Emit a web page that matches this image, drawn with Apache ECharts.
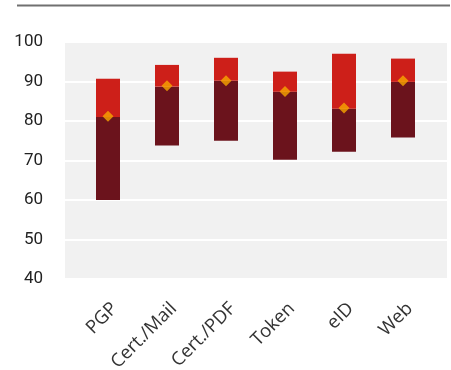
<!DOCTYPE html>
<html>
<head>
<meta charset="utf-8">
<script src="https://cdn.jsdelivr.net/npm/echarts@6/dist/echarts.min.js"></script>
<style>
  html, body { margin: 0; padding: 0; background: #ffffff; }
  #chart { width: 451px; height: 370px; }
</style>
</head>
<body>
<div id="chart"></div>
<script>
// Score ranges per signing method: lowest, median, highest and mean
const categories = ['PGP', 'Cert./Mail', 'Cert./PDF', 'Token', 'eID', 'Web'];
const minVals    = [60.0, 73.8, 75.0, 70.2, 72.2, 75.8];
const medianVals = [81.0, 88.7, 90.2, 87.4, 83.1, 89.9];
const maxVals    = [90.7, 94.2, 96.0, 92.5, 97.0, 95.8];
const meanVals   = [81.2, 88.9, 90.2, 87.5, 83.3, 90.2];
const yTicks = { min: 40, max: 100, step: 10 };

const Y_FONT = '"Roboto", sans-serif';
const X_FONT = '"Open Sans", sans-serif';

const lowerPart = medianVals.map((m, i) => +(m - minVals[i]).toFixed(2));
const upperPart = maxVals.map((m, i) => +(m - medianVals[i]).toFixed(2));

const chart = echarts.init(document.getElementById('chart'), null, { renderer: 'canvas' });

chart.setOption({
  animation: false,
  backgroundColor: '#ffffff',
  graphic: [{
    type: 'line',
    shape: { x1: 17, y1: 5.5, x2: 450, y2: 5.5 },
    style: { stroke: '#707070', lineWidth: 2 }
  }],
  grid: [
    // panel with background and gridlines
    { left: 65, right: 4, top: 42, height: 237, show: true, backgroundColor: '#f1f1f1',
      borderWidth: 0, containLabel: false, outerBoundsMode: 'none' },
    // inner area holding the bars
    { left: 78.5, width: 354, top: 42, height: 237, containLabel: false, outerBoundsMode: 'none' }
  ],
  xAxis: [
    { gridIndex: 0, type: 'value', show: false, min: 0, max: 1 },
    {
      gridIndex: 1, type: 'category', data: categories,
      axisLine: { show: false }, axisTick: { show: false },
      axisLabel: { rotate: 45, fontSize: 18.5, color: '#333333', fontFamily: X_FONT,
                   margin: 20, verticalAlign: 'top' }
    }
  ],
  yAxis: [
    {
      gridIndex: 0, type: 'value', min: yTicks.min, max: yTicks.max, interval: yTicks.step,
      axisLine: { show: false }, axisTick: { show: false },
      axisLabel: { fontSize: 17, color: '#222222', fontFamily: Y_FONT, margin: 22 },
      splitLine: { show: true, lineStyle: { color: '#ffffff', width: 2 } }
    },
    {
      gridIndex: 1, type: 'value', min: yTicks.min, max: yTicks.max, interval: yTicks.step,
      show: false, splitLine: { show: false }
    }
  ],
  series: [
    {
      type: 'bar', xAxisIndex: 1, yAxisIndex: 1, stack: 'range', barWidth: 24,
      data: minVals, itemStyle: { color: 'transparent' }, silent: true
    },
    {
      type: 'bar', xAxisIndex: 1, yAxisIndex: 1, stack: 'range', barWidth: 24,
      data: lowerPart, itemStyle: { color: '#6b131c' }
    },
    {
      type: 'bar', xAxisIndex: 1, yAxisIndex: 1, stack: 'range', barWidth: 24,
      data: upperPart, itemStyle: { color: '#cd1f19' }
    },
    {
      type: 'scatter', xAxisIndex: 1, yAxisIndex: 1, symbol: 'diamond', symbolSize: [11, 11],
      data: meanVals, itemStyle: { color: '#f7a600' }, z: 5
    }
  ]
});
</script>
</body>
</html>
